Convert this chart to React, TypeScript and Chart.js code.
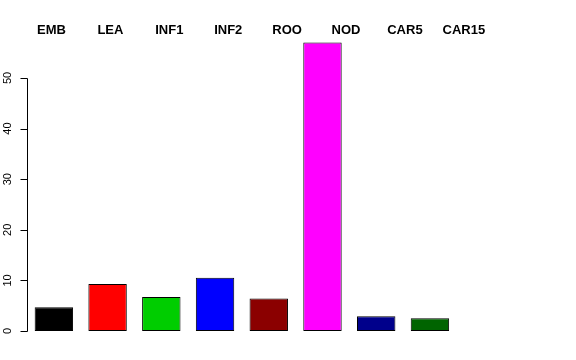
import React, { useEffect, useRef } from "react";
import { Chart, registerables } from "chart.js";

Chart.register(...registerables);

const categories = ["EMB", "LEA", "INF1", "INF2", "ROO", "NOD", "CAR5", "CAR15"];
const values = [4.7, 9.3, 6.7, 10.5, 6.4, 57.0, 2.9, 2.5];
const barColors = ["#000000", "#FF0000", "#00CD00", "#0000FF", "#8B0000", "#FF00FF", "#00008B", "#006400"];
const yTicks = [0, 10, 20, 30, 40, 50];

const FONT = "'Liberation Sans', Arial, Helvetica, sans-serif";

const customAxes = {
  id: "customAxes",
  afterDraw(chart: any) {
    const ctx = chart.ctx as CanvasRenderingContext2D;
    const x = chart.scales.x;
    const y = chart.scales.y;
    const ax = chart.chartArea.left;
    ctx.save();
    // y axis line between first and last tick
    ctx.strokeStyle = "#000";
    ctx.lineWidth = 1;
    ctx.beginPath();
    const y0 = Math.round(y.getPixelForValue(yTicks[0])) + 0.5;
    const y1 = Math.round(y.getPixelForValue(yTicks[yTicks.length - 1])) + 0.5;
    const axX = Math.round(ax) + 0.5;
    ctx.moveTo(axX, y0);
    ctx.lineTo(axX, y1);
    yTicks.forEach((t) => {
      const py = Math.round(y.getPixelForValue(t)) + 0.5;
      ctx.moveTo(axX, py);
      ctx.lineTo(axX - 7, py);
    });
    ctx.stroke();
    // tick labels rotated
    ctx.fillStyle = "#000";
    ctx.font = `11px ${FONT}`;
    ctx.textAlign = "center";
    ctx.textBaseline = "middle";
    yTicks.forEach((t) => {
      const py = y.getPixelForValue(t);
      ctx.save();
      ctx.translate(ax - 19, py);
      ctx.rotate(-Math.PI / 2);
      ctx.fillText(String(t), 0, 0);
      ctx.restore();
    });
    // category labels at top
    ctx.font = `bold 13px ${FONT}`;
    ctx.textAlign = "center";
    ctx.textBaseline = "middle";
    categories.forEach((c, i) => {
      const px = x.getPixelForValue(-0.044 + 1.0964 * i);
      ctx.fillText(c, px, 30);
    });
    ctx.restore();
  },
};

export default function App() {
  const ref = useRef<HTMLCanvasElement | null>(null);
  useEffect(() => {
    if (!ref.current) return;
    const chart = new Chart(ref.current, {
      type: "bar",
      data: {
        labels: categories,
        datasets: [
          {
            data: values,
            backgroundColor: barColors,
            borderColor: "#000000",
            borderWidth: 1,
            borderSkipped: false,
            barPercentage: 0.715,
            categoryPercentage: 1,
          },
        ],
      },
      options: {
        responsive: false,
        animation: false,
        layout: { padding: { left: 27, right: 119.2, top: 31.5, bottom: 29 } },
        plugins: { legend: { display: false }, tooltip: { enabled: false } },
        scales: {
          x: { display: false, offset: true },
          y: { display: false, min: 0, max: 59.18 },
        },
      },
      plugins: [customAxes],
    });
    return () => chart.destroy();
  }, []);
  return (
    <div style={{ position: "fixed", left: 0, top: 0, width: 576, height: 360, background: "#fff" }}>
      <canvas ref={ref} width={576} height={360} style={{ width: 576, height: 360 }} />
    </div>
  );
}
